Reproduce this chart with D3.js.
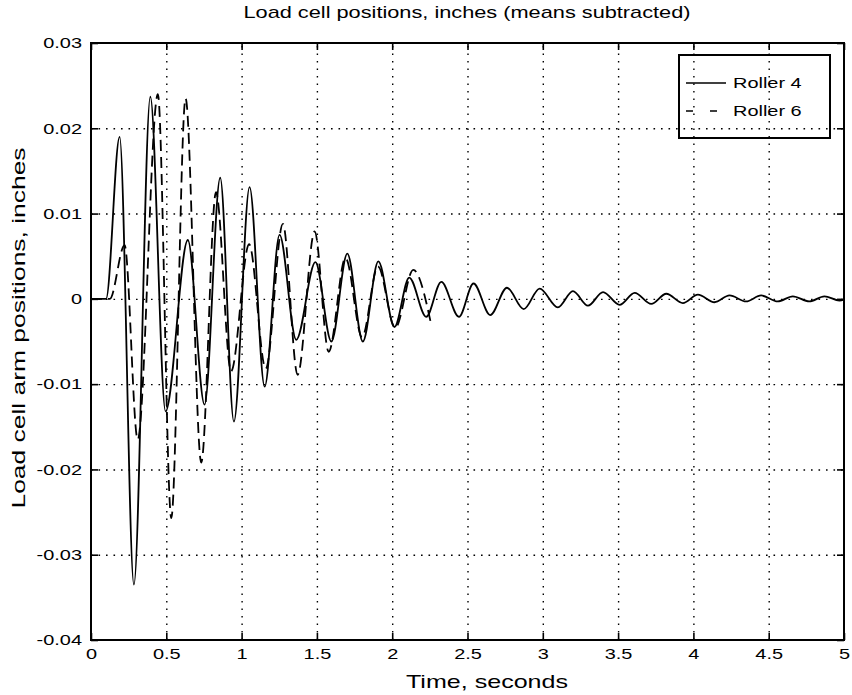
<!DOCTYPE html>
<html>
<head>
<meta charset="utf-8">
<script src="https://cdn.jsdelivr.net/npm/d3@7"></script>
<style>
body { margin:0; background:#fff; }
svg text { font-family: "Liberation Sans", Arial, Helvetica, sans-serif; fill:#000; }
</style>
</head>
<body>
<div id="chart"></div>
<script>
// values (peaks / troughs), seconds and inches
var roller4Time = [0, 0.10, 0.19, 0.285, 0.394, 0.495, 0.643, 0.754, 0.858, 0.949, 1.053, 1.153, 1.252, 1.363, 1.49, 1.596, 1.702, 1.805, 1.908, 2.015, 2.113, 2.226, 2.326, 2.443, 2.54, 2.651, 2.762, 2.873, 2.979, 3.10, 3.20, 3.30, 3.40, 3.51, 3.61, 3.72, 3.82, 3.93, 4.03, 4.14, 4.24, 4.35, 4.45, 4.56, 4.66, 4.77, 4.87, 4.97, 5.0];
var roller4Pos = [0, 0, 0.0190, -0.0335, 0.0237, -0.0132, 0.0069, -0.0124, 0.0142, -0.0144, 0.0131, -0.0103, 0.0075, -0.0048, 0.0043, -0.0050, 0.0053, -0.0050, 0.0044, -0.0033, 0.0025, -0.0021, 0.0020, -0.0021, 0.0018, -0.0019, 0.0013, -0.0012, 0.0012, -0.0010, 0.0009, -0.0008, 0.0008, -0.0007, 0.0007, -0.0006, 0.0006, -0.0005, 0.0005, -0.0004, 0.0004, -0.0003, 0.0004, -0.0003, 0.0003, -0.0003, 0.0003, -0.0002, -0.0001];

var roller6Time = [0, 0.125, 0.223, 0.31, 0.444, 0.533, 0.628, 0.732, 0.83, 0.93, 1.05, 1.16, 1.274, 1.372, 1.485, 1.578, 1.69, 1.80, 1.905, 2.02, 2.14, 2.26];
var roller6Pos = [0, 0, 0.0063, -0.0165, 0.0240, -0.0257, 0.0235, -0.0192, 0.0125, -0.0085, 0.0064, -0.0082, 0.0088, -0.0089, 0.0079, -0.0062, 0.0048, -0.0045, 0.0038, -0.0034, 0.0034, -0.0031];

var seriesNames = ["Roller 4", "Roller 6"];

var xTicks = [0, 0.5, 1, 1.5, 2, 2.5, 3, 3.5, 4, 4.5, 5];
var xTickLabels = ["0", "0.5", "1", "1.5", "2", "2.5", "3", "3.5", "4", "4.5", "5"];
var yTicks = [0.03, 0.02, 0.01, 0, -0.01, -0.02, -0.03, -0.04];
var yTickLabels = ["0.03", "0.02", "0.01", "0", "-0.01", "-0.02", "-0.03", "-0.04"];

(function () {
	var margin = {top: 43, left: 91, right: 8, bottom: 55},
	width = 852 - margin.left - margin.right,
	height = 695 - margin.top - margin.bottom;

	// the scanned font is much wider than Helvetica, so text is stretched sideways
	var sx = 1.33;

	var svg = d3.select("#chart")
		.append("svg")
		.attr("width", 852)
		.attr("height", 695)
		.append("g")
		.attr("transform", "translate(" + margin.left + "," + margin.top + ")");

	var x = d3.scaleLinear().domain([0, 5]).range([0, width]);
	var y = d3.scaleLinear().domain([-0.04, 0.03]).range([height, 0]);

	// dotted grid
	var xGrid = svg.append("g")
		.attr("transform", "translate(0," + height + ")")
		.call(d3.axisBottom(x).tickValues(xTicks.slice(1, -1)).tickSize(-height).tickFormat(""));
	var yGrid = svg.append("g")
		.call(d3.axisLeft(y).tickValues(yTicks.slice(1, -1)).tickSize(-width).tickFormat(""));
	[xGrid, yGrid].forEach(function (g) {
		g.select(".domain").remove();
		g.selectAll("line")
			.attr("stroke", "#000")
			.attr("stroke-width", 1.4)
			.attr("stroke-dasharray", "1.6,5.9");
	});

	// axes with inward ticks
	var xAxis = svg.append("g")
		.attr("transform", "translate(0," + height + ")")
		.call(d3.axisBottom(x).tickValues(xTicks).tickSize(-7).tickPadding(9)
			.tickFormat(function (d, i) { return xTickLabels[i]; }));
	var xTop = svg.append("g")
		.call(d3.axisTop(x).tickValues(xTicks).tickSize(-7).tickFormat(""));
	var yAxis = svg.append("g")
		.call(d3.axisLeft(y).tickValues(yTicks).tickSize(-7).tickPadding(9)
			.tickFormat(function (d, i) { return yTickLabels[i]; }));
	var yRight = svg.append("g")
		.attr("transform", "translate(" + width + ",0)")
		.call(d3.axisRight(y).tickValues(yTicks).tickSize(-7).tickFormat(""));

	[xAxis, xTop, yAxis, yRight].forEach(function (g) {
		g.select(".domain").remove();
		g.selectAll("line").attr("stroke", "#000").attr("stroke-width", 1.6);
	});

	xAxis.selectAll("text")
		.attr("font-size", 15)
		.attr("y", 8)
		.attr("transform", "scale(" + sx + ",1)");
	yAxis.selectAll("text")
		.attr("font-size", 15)
		.attr("x", -9 / sx)
		.attr("transform", "scale(" + sx + ",1)");

	// box
	svg.append("rect")
		.attr("width", width)
		.attr("height", height)
		.attr("fill", "none")
		.attr("stroke", "#000")
		.attr("stroke-width", 2);

	var line = d3.line()
		.x(function (d) { return x(d[0]); })
		.y(function (d) { return y(d[1]); })
		.curve(d3.curveMonotoneX);

	svg.append("path")
		.datum(d3.zip(roller4Time, roller4Pos))
		.attr("fill", "none")
		.attr("stroke", "#000")
		.attr("stroke-width", 1.8)
		.attr("d", line);

	svg.append("path")
		.datum(d3.zip(roller6Time, roller6Pos))
		.attr("fill", "none")
		.attr("stroke", "#000")
		.attr("stroke-width", 1.8)
		.attr("stroke-dasharray", "11,6")
		.attr("d", line);

	// titles
	var root = d3.select("#chart svg");
	root.append("text")
		.attr("transform", "translate(467,18) scale(1.36,1)")
		.attr("text-anchor", "middle")
		.attr("font-size", 16)
		.text("Load cell positions, inches (means subtracted)");
	root.append("text")
		.attr("transform", "translate(487,688) scale(1.32,1)")
		.attr("text-anchor", "middle")
		.attr("font-size", 19)
		.text("Time, seconds");
	root.append("text")
		.attr("transform", "translate(25,328) rotate(-90) scale(1.39,1)")
		.attr("text-anchor", "middle")
		.attr("font-size", 19)
		.text("Load cell arm positions, inches");

	// legend
	var lg = root.append("g");
	lg.append("rect")
		.attr("x", 679).attr("y", 55)
		.attr("width", 151).attr("height", 83)
		.attr("fill", "none")
		.attr("stroke", "#000")
		.attr("stroke-width", 2);
	lg.append("line")
		.attr("x1", 686).attr("x2", 726)
		.attr("y1", 83).attr("y2", 83)
		.attr("stroke", "#000").attr("stroke-width", 1.5);
	lg.append("line")
		.attr("x1", 686).attr("x2", 718)
		.attr("y1", 111).attr("y2", 111)
		.attr("stroke", "#000").attr("stroke-width", 1.5)
		.attr("stroke-dasharray", "7,17");
	lg.selectAll("text.lab")
		.data(seriesNames)
		.enter().append("text")
		.attr("class", "lab")
		.attr("font-size", 15)
		.attr("transform", function (d, i) { return "translate(733," + (88 + i * 28) + ") scale(" + sx + ",1)"; })
		.text(function (d) { return d; });
})();
</script>
</body>
</html>
